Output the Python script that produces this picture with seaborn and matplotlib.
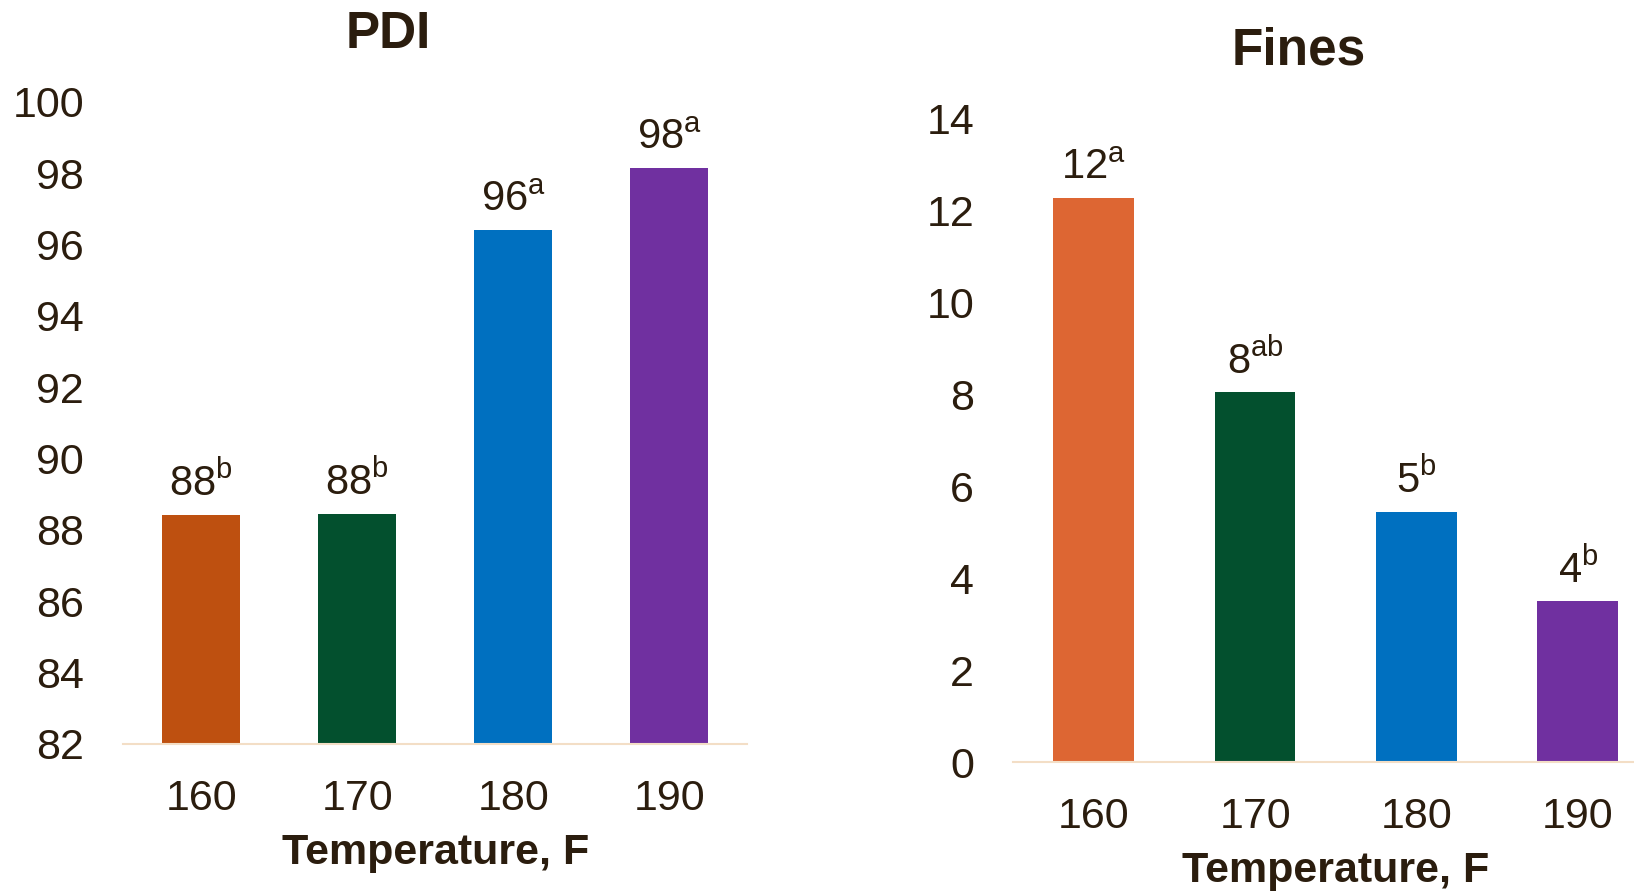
import matplotlib
matplotlib.use("Agg")
import matplotlib.pyplot as plt
import seaborn as sns
import pandas as pd

# ---- data ----
temps = ["160", "170", "180", "190"]
pdi_values = [88.43, 88.46, 96.41, 98.16]
pdi_labels = ["88", "88", "96", "98"]
pdi_letters = ["b", "b", "a", "a"]
fines_values = [12.26, 8.04, 5.44, 3.49]
fines_labels = ["12", "8", "5", "4"]
fines_letters = ["a", "ab", "b", "b"]
pdi_colors = ["#BE5010", "#03502E", "#0070C0", "#7030A0"]
fines_colors = ["#DD6633", "#03502E", "#0070C0", "#7030A0"]

sns.set_theme(style="white")
plt.rcParams["font.family"] = ["Liberation Sans", "DejaVu Sans"]
plt.rcParams["mathtext.fontset"] = "custom"
plt.rcParams["mathtext.rm"] = "Liberation Sans"
plt.rcParams["mathtext.it"] = "Liberation Sans"
TXT = "#2B1D0E"
AXC = "#F3DEC6"

fig = plt.figure(figsize=(16.34, 8.92), dpi=100)
ax1 = fig.add_axes([0.0753, 0.166, 0.382, 0.7197])
ax2 = fig.add_axes([0.620, 0.1457, 0.395, 0.722])

def draw(ax, values, colors, labels, letters, ylim, yticks, title, title_xy):
    df = pd.DataFrame({"temp": temps, "val": values})
    sns.barplot(data=df, x="temp", y="val", hue="temp", palette=colors,
                width=0.5, legend=False, ax=ax, saturation=1, edgecolor="none")
    ax.set_ylim(*ylim)
    ax.set_xlim(-0.5, 3.5)
    ax.set_yticks(yticks)
    ax.set_yticklabels([str(t) for t in yticks])
    for s in ["top", "right", "left"]:
        ax.spines[s].set_visible(False)
    ax.spines["bottom"].set_color(AXC)
    ax.spines["bottom"].set_linewidth(1.5)
    ax.tick_params(axis="y", length=0, pad=28, labelsize=31, labelcolor=TXT)
    ax.tick_params(axis="x", length=0, pad=25, labelsize=31, labelcolor=TXT)
    ax.set_ylabel("")
    ax.set_xlabel("Temperature, F", fontsize=31, fontweight="bold", color=TXT, labelpad=10)
    for i, (v, lab, let) in enumerate(zip(values, labels, letters)):
        ax.annotate(r"$\mathregular{" + lab + "^{" + let + "}}$", (i, v),
                    xytext=(0, 7), textcoords="offset points",
                    ha="center", va="bottom", fontsize=30, color=TXT)
    fig.text(title_xy[0], title_xy[1], title, ha="center", va="center",
             fontsize=37, fontweight="bold", color=TXT)

draw(ax1, pdi_values, pdi_colors, pdi_labels, pdi_letters, (82, 100),
     list(range(82, 101, 2)), "PDI", (388 / 1634, 1 - 35 / 892))
draw(ax2, fines_values, fines_colors, fines_labels, fines_letters, (0, 14),
     list(range(0, 15, 2)), "Fines", (1299 / 1634, 1 - 51 / 892))

fig.savefig("out.png", dpi=100)
